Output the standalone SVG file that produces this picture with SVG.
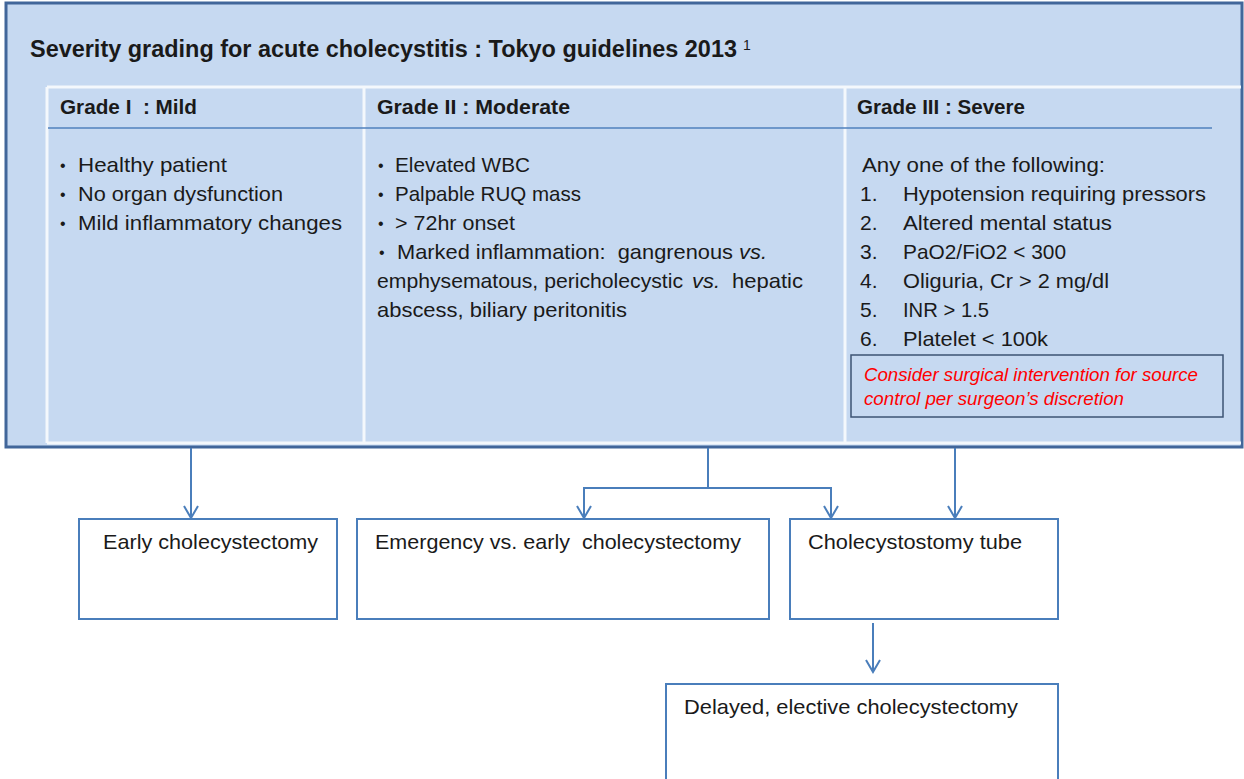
<svg xmlns="http://www.w3.org/2000/svg" width="1244" height="779" viewBox="0 0 1244 779">
<defs>
<style>
text{font-family:"Liberation Sans",Arial,sans-serif;fill:#1a1a1a;white-space:pre}
.t{font-size:23px;font-weight:bold}
.h{font-size:20.5px;font-weight:bold}
.b{font-size:21px}
.bu{font-size:16px}
.i{font-style:italic}
.r{font-size:18px;font-style:italic;fill:#ff0000}
.box{fill:#ffffff;stroke:#4a7ebb;stroke-width:2}
.con{fill:none;stroke:#4a7ebb;stroke-width:2}
.wl{stroke:#f4f8fc;stroke-width:3}
</style>
<marker id="arr" markerWidth="16" markerHeight="16" refX="14" refY="8" orient="auto" markerUnits="userSpaceOnUse">
<path d="M2,1 L14,8 L2,15" fill="none" stroke="#4a7ebb" stroke-width="2"/>
</marker>
</defs>
<rect x="0" y="0" width="1244" height="779" fill="#ffffff"/>

<g id="grading-panel">
<rect x="6" y="3" width="1236" height="444" fill="#c6d9f1" stroke="#41669a" stroke-width="3"/>
<text class="t" x="30" y="57" textLength="707" lengthAdjust="spacingAndGlyphs">Severity grading for acute cholecystitis : Tokyo guidelines 2013</text>
<text x="743" y="50" style="font-size:14px">1</text>
<line class="wl" x1="47" y1="87" x2="1241" y2="87"/>
<line class="wl" x1="47" y1="87" x2="47" y2="443"/>
<line class="wl" x1="364" y1="87" x2="364" y2="443"/>
<line class="wl" x1="845" y1="87" x2="845" y2="443"/>
<line class="wl" x1="47" y1="443" x2="1241" y2="443"/>
<line x1="48" y1="128" x2="1212" y2="128" stroke="#4f81bd" stroke-width="1.5"/>
<line x1="6" y1="447" x2="1242" y2="447" stroke="#41669a" stroke-width="2"/>
</g>

<g id="grade1">
<text class="h" x="60" y="114" textLength="137" lengthAdjust="spacingAndGlyphs">Grade I  : Mild</text>
<text class="bu" x="60" y="171">•</text>
<text class="b" x="78" y="172" textLength="149" lengthAdjust="spacingAndGlyphs">Healthy patient</text>
<text class="bu" x="60" y="200">•</text>
<text class="b" x="78" y="201" textLength="205" lengthAdjust="spacingAndGlyphs">No organ dysfunction</text>
<text class="bu" x="60" y="229">•</text>
<text class="b" x="78" y="230" textLength="264" lengthAdjust="spacingAndGlyphs">Mild inflammatory changes</text>
</g>

<g id="grade2">
<text class="h" x="377" y="114" textLength="193" lengthAdjust="spacingAndGlyphs">Grade II : Moderate</text>
<text class="bu" x="378" y="171">•</text>
<text class="b" x="395" y="172" textLength="135" lengthAdjust="spacingAndGlyphs">Elevated WBC</text>
<text class="bu" x="378" y="200">•</text>
<text class="b" x="395" y="201" textLength="186" lengthAdjust="spacingAndGlyphs">Palpable RUQ mass</text>
<text class="bu" x="378" y="229">•</text>
<text class="b" x="395" y="230" textLength="120" lengthAdjust="spacingAndGlyphs">&gt; 72hr onset</text>
<text class="bu" x="379" y="258">•</text>
<text class="b" x="397" y="259" textLength="336" lengthAdjust="spacingAndGlyphs">Marked inflammation:  gangrenous</text>
<text class="b i" x="739" y="259" textLength="28" lengthAdjust="spacingAndGlyphs">vs.</text>
<text class="b" x="377" y="288" textLength="306" lengthAdjust="spacingAndGlyphs">emphysematous, pericholecystic</text>
<text class="b i" x="692" y="288" textLength="28" lengthAdjust="spacingAndGlyphs">vs.</text>
<text class="b" x="732" y="288" textLength="71" lengthAdjust="spacingAndGlyphs">hepatic</text>
<text class="b" x="377" y="317" textLength="250" lengthAdjust="spacingAndGlyphs">abscess, biliary peritonitis</text>
</g>

<g id="grade3">
<text class="h" x="857" y="114" textLength="168" lengthAdjust="spacingAndGlyphs">Grade III : Severe</text>
<text class="b" x="862" y="172" textLength="243" lengthAdjust="spacingAndGlyphs">Any one of the following:</text>
<text class="b" x="860" y="201">1.</text>
<text class="b" x="903" y="201" textLength="303" lengthAdjust="spacingAndGlyphs">Hypotension requiring pressors</text>
<text class="b" x="860" y="230">2.</text>
<text class="b" x="903" y="230" textLength="209" lengthAdjust="spacingAndGlyphs">Altered mental status</text>
<text class="b" x="860" y="259">3.</text>
<text class="b" x="903" y="259" textLength="163" lengthAdjust="spacingAndGlyphs">PaO2/FiO2 &lt; 300</text>
<text class="b" x="860" y="288">4.</text>
<text class="b" x="903" y="288" textLength="206" lengthAdjust="spacingAndGlyphs">Oliguria, Cr &gt; 2 mg/dl</text>
<text class="b" x="860" y="317">5.</text>
<text class="b" x="903" y="317" textLength="86" lengthAdjust="spacingAndGlyphs">INR &gt; 1.5</text>
<text class="b" x="860" y="346">6.</text>
<text class="b" x="903" y="346" textLength="145" lengthAdjust="spacingAndGlyphs">Platelet &lt; 100k</text>
</g>

<g id="surgical-note">
<rect x="851" y="355" width="372" height="62" fill="#c6d9f1" stroke="#3d5373" stroke-width="1.5"/>
<text class="r" x="864" y="381" textLength="334" lengthAdjust="spacingAndGlyphs">Consider surgical intervention for source</text>
<text class="r" x="864" y="405" textLength="260" lengthAdjust="spacingAndGlyphs">control per surgeon’s discretion</text>
</g>

<g id="connectors">
<path class="con" d="M191,448 V518" marker-end="url(#arr)"/>
<path class="con" d="M708,448 V488 H584 V518" marker-end="url(#arr)"/>
<path class="con" d="M708,488 H831 V518" marker-end="url(#arr)"/>
<path class="con" d="M955,448 V518" marker-end="url(#arr)"/>
<path class="con" d="M873,623 V672" marker-end="url(#arr)"/>
</g>

<g id="early">
<rect class="box" x="79" y="519" width="258" height="100"/>
<text class="b" x="103" y="549" textLength="215" lengthAdjust="spacingAndGlyphs">Early cholecystectomy</text>
</g>

<g id="emergency">
<rect class="box" x="357" y="519" width="412" height="100"/>
<text class="b" x="375" y="549" textLength="366" lengthAdjust="spacingAndGlyphs">Emergency vs. early  cholecystectomy</text>
</g>

<g id="cholecystostomy">
<rect class="box" x="790" y="519" width="268" height="100"/>
<text class="b" x="808" y="549" textLength="214" lengthAdjust="spacingAndGlyphs">Cholecystostomy tube</text>
</g>

<g id="delayed">
<rect class="box" x="666" y="684" width="392" height="100"/>
<text class="b" x="684" y="714" textLength="334" lengthAdjust="spacingAndGlyphs">Delayed, elective cholecystectomy</text>
</g>
</svg>
